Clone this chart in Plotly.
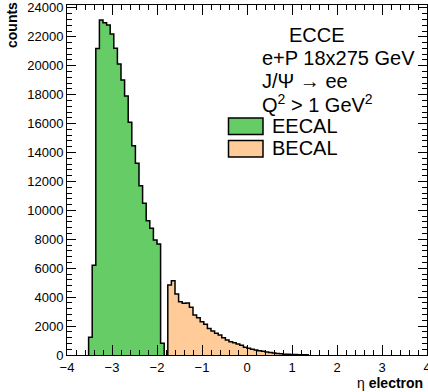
import plotly.graph_objects as go

# ---- data ----
bin_width = 0.08
eecal_start = -3.52
eecal_counts = [1220, 6200, 21200, 23170, 22980, 22820, 22200, 21210, 20120, 19020,
                17910, 16090, 14470, 13260, 11710, 10490, 9290, 8760, 7950, 7680, 810]
becal_start = -1.76
becal_counts = [4840, 5140, 4220, 3690, 3570, 3600, 3300, 2770, 2580, 2300,
                2120, 1840, 1660, 1500, 1380, 1200, 1040, 920, 850, 760,
                670, 530, 460, 390, 350, 300, 260, 210, 170, 130,
                100, 80, 60, 50, 40, 30, 25, 20, 10]
x_tick_vals = [-4, -3, -2, -1, 0, 1, 2, 3, 4]
x_tick_text = ["\u22124", "\u22123", "\u22122", "\u22121", "0", "1", "2", "3", "4"]
y_tick_vals = list(range(0, 24001, 2000))
y_tick_text = [str(v) for v in y_tick_vals]

FONT = "Liberation Sans, Arial, sans-serif"


def step_outline(start, width, counts):
    edges = [start + i * width for i in range(len(counts) + 1)]
    xs = [edges[0]] + edges[:-1] + [edges[-1]]
    ys = [0] + list(counts) + [0]
    return xs, ys


fig = go.Figure()
for start, counts, color in [(eecal_start, eecal_counts, "#66CC66"),
                             (becal_start, becal_counts, "#FFCC99")]:
    xs, ys = step_outline(start, bin_width, counts)
    fig.add_trace(go.Scatter(x=xs, y=ys, mode="lines",
                             line=dict(color="black", width=1.5, shape="hv"),
                             fill="tozeroy", fillcolor=color,
                             showlegend=False, hoverinfo="skip"))

L, R, T, B = 67, 1, 5, 37
W, H = 428, 392
pw, ph = W - L - R, H - T - B


def px(x):
    return (x - L) / pw


def py(y):
    return (H - B - y) / ph


axis_common = dict(
    ticks="inside", tickcolor="black", tickwidth=1,
    showline=True, linecolor="black", linewidth=1, mirror="allticks",
    showgrid=False, zeroline=False, ticklabeloverflow="allow",
    tickfont=dict(family=FONT, size=13, color="black"),
)

fig.update_layout(
    width=W, height=H,
    margin=dict(l=L, r=R, t=T, b=B, autoexpand=False),
    paper_bgcolor="white", plot_bgcolor="white",
    xaxis=dict(range=[-4, 4], tickmode="array", tickvals=x_tick_vals, ticktext=x_tick_text,
               ticklen=10, automargin=False,
               minor=dict(ticks="inside", ticklen=5, dtick=0.2, tick0=-4, tickcolor="black", showgrid=False),
               **axis_common),
    yaxis=dict(range=[0, 24200], tickmode="array", tickvals=y_tick_vals, ticktext=y_tick_text,
               ticklen=9, automargin=False,
               minor=dict(ticks="inside", ticklen=5, dtick=400, tick0=0, tickcolor="black", showgrid=False),
               **axis_common),
)

# legend boxes
for (y0, y1, color) in [(118, 134.5, "#66CC66"), (140.5, 157, "#FFCC99")]:
    fig.add_shape(type="rect", xref="paper", yref="paper",
                  x0=px(228.5), x1=px(263), y0=py(y1), y1=py(y0),
                  fillcolor=color, line=dict(color="black", width=1.5))

texts = [
    ("ECCE", 317, 35, "center"),
    ("e+P 18x275 GeV", 260, 58.5, "left"),
    ("J/\u03a8 \u2192 ee", 260, 81, "left"),
    ("Q<sup>2</sup> &gt; 1 GeV<sup>2</sup>", 260, 104, "left"),
    ("EECAL", 270, 125.5, "left"),
    ("BECAL", 270, 148, "left"),
]
for t, x, y, anc in texts:
    fig.add_annotation(text=t, xref="paper", yref="paper", x=px(x), y=py(y),
                       xanchor=anc, yanchor="middle", showarrow=False,
                       font=dict(family=FONT, size=20, color="black"))

fig.add_annotation(text="<b>counts</b>", xref="paper", yref="paper",
                   x=px(12), y=py(0), xanchor="center", yanchor="top", textangle=-90,
                   showarrow=False, font=dict(family=FONT, size=14, color="black"))
fig.add_annotation(text="\u03b7 <b>electron</b>", xref="paper", yref="paper",
                   x=px(425), y=py(383), xanchor="right", yanchor="middle",
                   showarrow=False, font=dict(family=FONT, size=14, color="black"))

fig.write_html("out.html", config={"displayModeBar": False},
               post_script="document.body.style.margin='0';document.body.style.padding='0';")
